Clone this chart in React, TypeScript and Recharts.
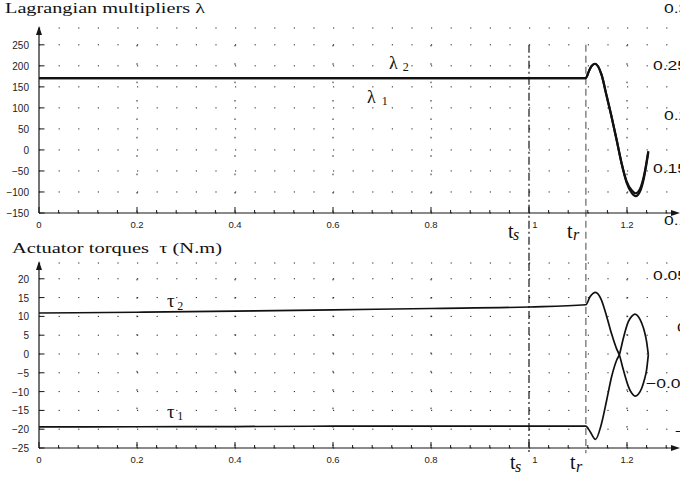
import React from "react";
import { LineChart, Line, XAxis, YAxis, CartesianGrid, ReferenceLine, ReferenceDot } from "recharts";

// time (s) samples
const tLambda = [0, 0.5, 1.0, 1.116, 1.1225, 1.128, 1.1347, 1.148, 1.1585, 1.1687, 1.179, 1.189, 1.199, 1.2096, 1.2177, 1.2265, 1.2347, 1.2435];
const lambda1 = [171, 171, 171, 171, 188, 200, 205, 179, 128, 78, 23, -32, -77, -102, -110, -99, -66, -6];
const lambda2 = [171, 171, 171, 171, 188, 200, 205, 179, 128, 78, 23, -32, -74, -96, -103, -93, -61, -3];

const tTorque = [0, 0.2, 0.4, 0.6, 0.8, 1.0, 1.116, 1.1245, 1.1357, 1.147, 1.1585, 1.1687, 1.179, 1.1843, 1.1925, 1.2027, 1.2095, 1.2163, 1.223, 1.23, 1.236, 1.24, 1.2435];
const tau1 = [-19.4, -19.35, -19.3, -19.2, -19.2, -19.2, -19.2, -20.6, -22.7, -19.0, -12.3, -6.0, -1.6, -0.2, 4.2, 8.6, 10.0, 10.6, 10.0, 8.2, 5.8, 3.3, -0.2];
const tau2 = [10.9, 11.1, 11.4, 11.75, 12.1, 12.5, 13.1, 15.2, 16.4, 14.6, 10.0, 5.3, 1.3, -0.2, -4.2, -8.6, -10.4, -11.2, -10.7, -9.1, -6.6, -4.2, -0.2];

// switching instants
const tS = 1.0;
const tR = 1.116;

const xMajor = [0, 0.2, 0.4, 0.6, 0.8, 1, 1.2];
const xTicks = [0, 0.04, 0.08, 0.12, 0.16, 0.2, 0.24, 0.28, 0.32, 0.36, 0.4, 0.44, 0.48, 0.52, 0.56, 0.6, 0.64, 0.68, 0.72, 0.76, 0.8, 0.84, 0.88, 0.92, 0.96, 1, 1.04, 1.08, 1.12, 1.16, 1.2, 1.24, 1.28];
const gridX = [0.2, 0.4, 0.6, 0.8, 1.2];
const lambdaTicks = [-150, -100, -50, 0, 50, 100, 150, 200, 250];
const torqueTicks = [-25, -20, -15, -10, -5, 0, 5, 10, 15, 20];

// labels of the neighbouring figure, cut off at the right edge
const sideLabels = ["0.3", "0.25", "0.2", "0.15", "0.1", "0.05", "0", "\u22120.05", "\u22120.1"];

const lambdaRows = tLambda.map((t, i) => ({ t, l1: lambda1[i], l2: lambda2[i] }));
const torqueRows = tTorque.map((t, i) => ({ t, tau1: tau1[i], tau2: tau2[i] }));

const INK = "#161616";
const SANS = "Liberation Sans, Arial, sans-serif";
const SERIF = "Liberation Serif, Times New Roman, serif";

const fmt = (v: number) => (v < 0 ? `\u2212${-v}` : `${v}`);

function YTick({ x, y, payload }: any) {
  return (
    <g>
      <line x1={x + 10} y1={y} x2={x + 15.5} y2={y} stroke={INK} strokeWidth={1} />
      <text x={x} y={y + 4} textAnchor="end" fontFamily={SANS} fontSize={10} fill="#222">
        {fmt(payload.value)}
      </text>
    </g>
  );
}

function XTick({ x, y, payload }: any) {
  const v = payload.value;
  const major = xMajor.includes(v);
  return (
    <g>
      <line x1={x} y1={y - 10} x2={x} y2={y - 10 - (major ? 6 : 3)} stroke={INK} strokeWidth={1} />
      {major && (
        <text x={x + (v === 1 ? 6 : 0)} y={y + 4.5} textAnchor="middle" fontFamily={SANS} fontSize={9.5} fill="#222">
          {String(v)}
        </text>
      )}
    </g>
  );
}

const arrowRight = (p: any) => (
  <polygon points={`${p.cx + 4},${p.cy} ${p.cx - 5},${p.cy - 3} ${p.cx - 5},${p.cy + 3}`} fill={INK} />
);
const arrowUp = (p: any) => (
  <polygon points={`${p.cx},${p.cy - 2} ${p.cx - 3},${p.cy + 7} ${p.cx + 3},${p.cy + 7}`} fill={INK} />
);

function symbol(main: string, sub: string, size: number, subSize: number, dx: number, dy: number, italic = false) {
  return (p: any) => (
    <text x={p.cx} y={p.cy} style={{ fontFamily: SERIF }} fontSize={size} fill="#111">
      {main}
      <tspan dx={dx} dy={dy} fontSize={subSize} fontStyle={italic ? "italic" : "normal"}>
        {sub}
      </tspan>
    </text>
  );
}

const axisProps = { stroke: INK, strokeWidth: 1.2 };

export default function App() {
  return (
    <div style={{ position: "fixed", left: 0, top: 0, width: 680, height: 480, overflow: "hidden", background: "#fff" }}>
      <div style={{ position: "absolute", left: 0, top: 0 }}>
        <LineChart width={680} height={270} data={lambdaRows} margin={{ top: 28, right: 4, bottom: 0, left: 0 }}>
          <CartesianGrid vertical={false} stroke="#222" strokeDasharray="1.2 18.4" />
          <XAxis type="number" dataKey="t" domain={[0, 1.3]} allowDataOverflow ticks={xTicks} interval={0}
            tickSize={0} tickMargin={10} tickLine={false} tick={<XTick />} axisLine={axisProps} height={57} />
          <YAxis type="number" domain={[-150, 290]} allowDataOverflow ticks={lambdaTicks} interval={0}
            tickSize={0} tickMargin={10} tickLine={false} tick={<YTick />} axisLine={axisProps} width={39} />
          {gridX.map((g) => (
            <ReferenceLine key={g} segment={[{ x: g, y: 250 }, { x: g, y: -150 }]} stroke="#222" strokeDasharray="1.6 16.8" />
          ))}
          <ReferenceLine segment={[{ x: tS, y: 250 }, { x: tS, y: -272 }]} ifOverflow="visible" stroke="#000" strokeWidth={1.1} strokeDasharray="8 3 2 3" />
          <ReferenceLine segment={[{ x: tR, y: 250 }, { x: tR, y: -272 }]} ifOverflow="visible" stroke="#8c8c8c" strokeWidth={1.6} strokeDasharray="7 4" />
          <Line type="monotone" dataKey="l1" stroke="#111" strokeWidth={2.2} dot={false} activeDot={false} isAnimationActive={false} />
          <Line type="monotone" dataKey="l2" stroke="#111" strokeWidth={2.2} dot={false} activeDot={false} isAnimationActive={false} />
          <ReferenceDot x={1.3} y={-150} ifOverflow="visible" shape={arrowRight} />
          <ReferenceDot x={0} y={290} ifOverflow="visible" shape={arrowUp} />
          <ReferenceDot x={0.7143} y={193.2} ifOverflow="visible" shape={symbol("\u03bb", "2", 18, 12, 5, 2)} />
          <ReferenceDot x={0.6694} y={112.7} ifOverflow="visible" shape={symbol("\u03bb", "1", 18, 12, 6, 2)} />
          <ReferenceDot x={0.9571} y={-209.2} ifOverflow="visible" shape={symbol("t", "s", 20, 16, -0.5, 2, true)} />
          <ReferenceDot x={1.0776} y={-209.2} ifOverflow="visible" shape={symbol("t", "r", 20, 16, 0.5, 2, true)} />
        </LineChart>
      </div>
      <div style={{ position: "absolute", left: 0, top: 235 }}>
        <LineChart width={680} height={245} data={torqueRows} margin={{ top: 28, right: 4, bottom: 0, left: 0 }}>
          <CartesianGrid vertical={false} stroke="#222" strokeDasharray="1.2 18.4" />
          <XAxis type="number" dataKey="t" domain={[0, 1.3]} allowDataOverflow ticks={xTicks} interval={0}
            tickSize={0} tickMargin={10} tickLine={false} tick={<XTick />} axisLine={axisProps} height={32} />
          <YAxis type="number" domain={[-25, 24.2]} allowDataOverflow ticks={torqueTicks} interval={0}
            tickSize={0} tickMargin={10} tickLine={false} tick={<YTick />} axisLine={axisProps} width={39} />
          {gridX.map((g) => (
            <ReferenceLine key={g} segment={[{ x: g, y: 20 }, { x: g, y: -25 }]} stroke="#222" strokeDasharray="1.6 16.8" />
          ))}
          <ReferenceLine segment={[{ x: tS, y: 24.2 }, { x: tS, y: -26.4 }]} ifOverflow="visible" stroke="#000" strokeWidth={1.1} strokeDasharray="8 3 2 3" />
          <ReferenceLine segment={[{ x: tR, y: 24.2 }, { x: tR, y: -26.4 }]} ifOverflow="visible" stroke="#8c8c8c" strokeWidth={1.6} strokeDasharray="7 4" />
          <Line type="monotone" dataKey="tau1" stroke="#111" strokeWidth={1.7} dot={false} activeDot={false} isAnimationActive={false} />
          <Line type="monotone" dataKey="tau2" stroke="#111" strokeWidth={1.7} dot={false} activeDot={false} isAnimationActive={false} />
          <ReferenceDot x={1.3} y={-25} ifOverflow="visible" shape={arrowRight} />
          <ReferenceDot x={0} y={24.2} ifOverflow="visible" shape={arrowUp} />
          <ReferenceDot x={0.2612} y={12.54} ifOverflow="visible" shape={symbol("\u03c4", "2", 19, 12, 2.5, 3)} />
          <ReferenceDot x={0.2612} y={-17.01} ifOverflow="visible" shape={symbol("\u03c4", "1", 19, 12, 2.5, 2)} />
          <ReferenceDot x={0.9612} y={-30.59} ifOverflow="visible" shape={symbol("t", "s", 20, 16, -0.5, 3, true)} />
          <ReferenceDot x={1.0837} y={-30.59} ifOverflow="visible" shape={symbol("t", "r", 20, 16, 0.5, 3, true)} />
        </LineChart>
      </div>
      <svg width={680} height={480} style={{ position: "absolute", left: 0, top: 0, pointerEvents: "none" }}>
        <text x={5} y={12.7} style={{ fontFamily: SERIF }} fontSize={14.5} fill="#111" textLength={200} lengthAdjust="spacingAndGlyphs">
          Lagrangian multipliers {"\u03bb"}
        </text>
        <text x={12} y={253.3} style={{ fontFamily: SERIF }} fontSize={14.5} fill="#111" textLength={210} lengthAdjust="spacingAndGlyphs">
          {"Actuator torques\u00a0\u00a0\u03c4 (N.m)"}
        </text>
        {sideLabels.map((s, i) => {
          const pos = [[664, 13], [653, 70], [664, 120], [653, 173], [664, 225], [653, 280], [677, 332], [646, 388], [675, 436]][i];
          return (
            <text key={s} transform={`translate(${pos[0]},${pos[1]}) scale(1.3,1)`} fontFamily={SANS} fontSize={13.5} fill="#111">
              {s}
            </text>
          );
        })}
      </svg>
    </div>
  );
}
